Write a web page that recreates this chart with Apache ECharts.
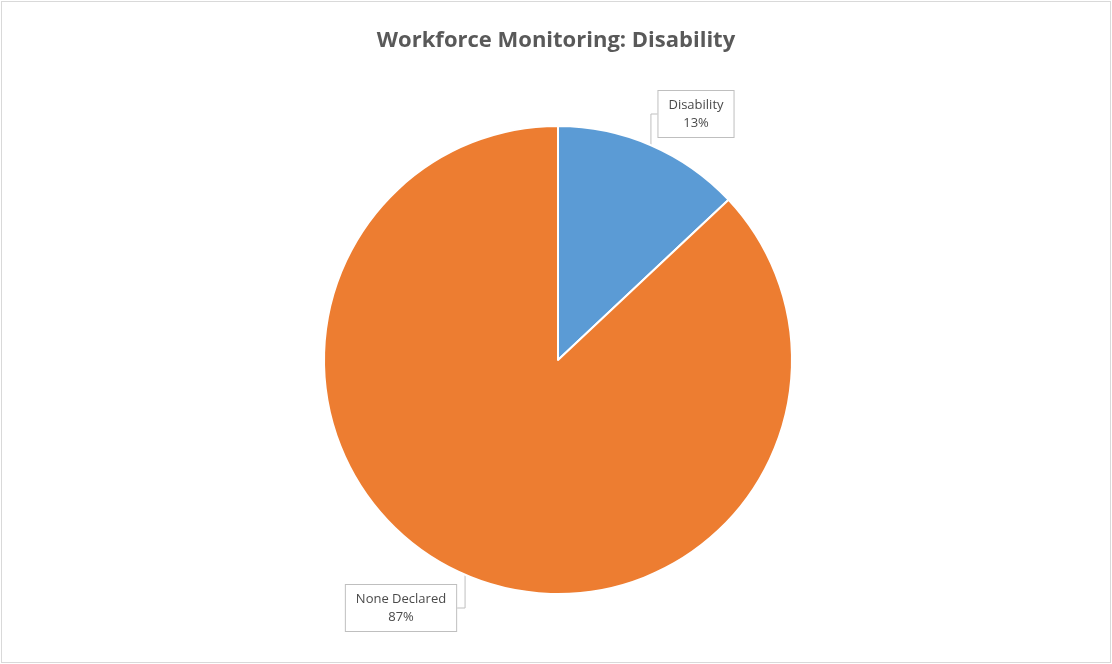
<!DOCTYPE html>
<html>
<head>
<meta charset="utf-8">
<script src="https://cdn.jsdelivr.net/npm/echarts@6/dist/echarts.min.js"></script>
<style>
  html, body { margin: 0; padding: 0; background: #fff; }
  #chart { position: absolute; left: 1px; top: 1px; width: 1108px; height: 660px; border: 1px solid #d9d9d9; }
</style>
</head>
<body>
<div id="chart"></div>
<script>
var categories = ['Disability', 'None Declared'];
var values = [13, 87];
var colors = ['#5B9BD5', '#ED7D31'];
// label box centres (chart coordinates)
var labelSpots = [[694, 112], [399, 606]];

window.onload = function () {
    var chart = echarts.init(document.getElementById('chart'));

    var option = {
        title: {
            text: 'Workforce Monitoring: Disability',
            left: 'center',
            top: 23,
            textStyle: { fontFamily: 'Open Sans', fontSize: 22, fontWeight: 'bold', color: '#595959' }
        },
        series: [{
            type: 'pie',
            center: [556, 358],
            radius: 234,
            startAngle: 90,
            data: categories.map(function (c, i) {
                return { name: c, value: values[i], itemStyle: { color: colors[i] } };
            }),
            itemStyle: { borderColor: '#fff', borderWidth: 2 },
            label: {
                show: true,
                position: 'outside',
                formatter: '{b}\n{d}%',
                fontFamily: 'Open Sans',
                fontSize: 13,
                lineHeight: 18,
                color: '#4a4a4a',
                align: 'center',
                backgroundColor: '#fff',
                borderColor: '#bfbfbf',
                borderWidth: 1,
                padding: [5, 10]
            },
            labelLine: { show: true, length: 10, length2: 10, lineStyle: { color: '#bfbfbf', width: 1 } },
            labelLayout: function (p) {
                var s = labelSpots[p.dataIndex];
                return { x: s[0], y: s[1], align: 'center', verticalAlign: 'middle' };
            },
            emphasis: { disabled: true },
            animation: false
        }]
    };

    chart.setOption(option);
};
</script>
</body>
</html>
